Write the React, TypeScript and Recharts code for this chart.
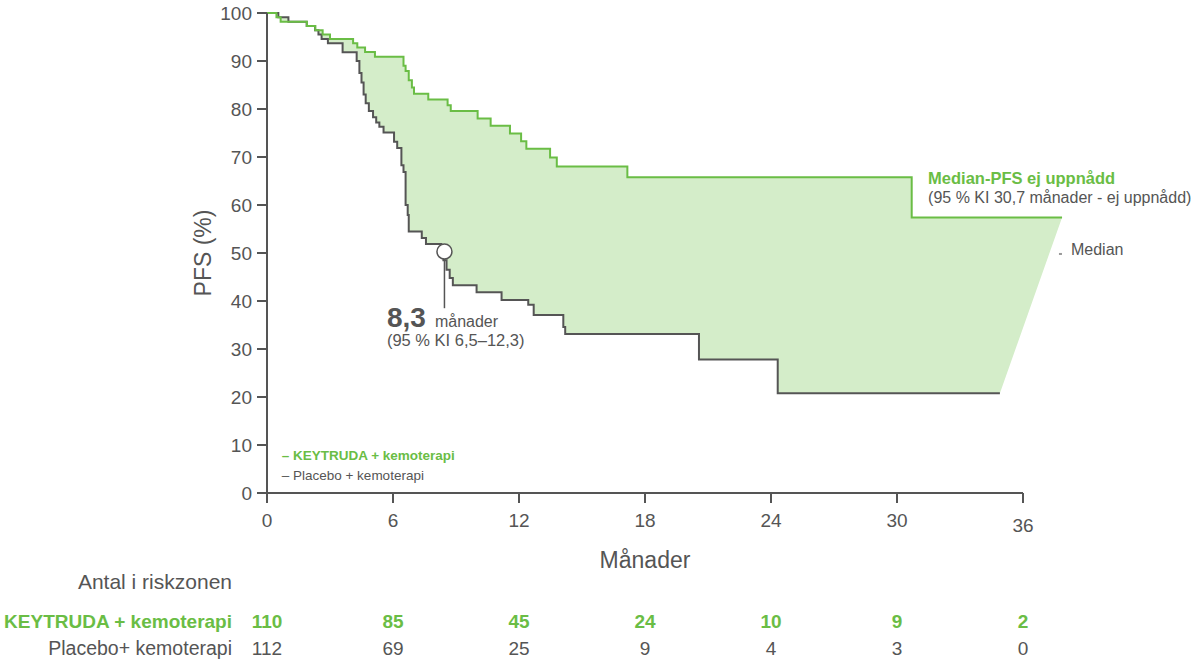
import {
  Area,
  ComposedChart,
  Line,
  ReferenceDot,
  ReferenceLine,
  XAxis,
  YAxis,
} from "recharts";

const FONT = "'Liberation Sans', Arial, Helvetica, sans-serif";
const GREEN = "#6abd45";
const GREEN_FILL = "#d4edc9";
const GRAY = "#555555";

// axis ticks
const monthTicks = [0, 6, 12, 18, 24, 30, 36];
const pfsTicks = [0, 10, 20, 30, 40, 50, 60, 70, 80, 90, 100];

// number at risk under each month tick
const keytrudaAtRisk = [110, 85, 45, 24, 10, 9, 2];
const placeboAtRisk = [112, 69, 25, 9, 4, 3, 0];

// Kaplan-Meier steps (month, PFS %)
const keytrudaMonths = [
  0, 0.45, 0.65, 1.9, 2.3, 2.65, 3.0, 4.1, 4.3, 4.67, 5.14, 6.5, 6.6, 6.75,
  6.9, 7.0, 7.68, 8.6, 8.75, 10.03, 10.65, 11.57, 12.1, 12.35, 13.48, 13.8,
  17.16, 30.7, 37.86,
];
const keytrudaPfs = [
  100, 99.1, 98.2, 97.3, 96.4, 95.5, 94.6, 93.7, 92.8, 91.9, 90.9, 89.0, 87.9,
  86.0, 84.5, 83.2, 82.0, 80.8, 79.6, 78.0, 76.5, 74.9, 73.3, 71.7, 69.9, 68.0,
  65.8, 57.4, 57.4,
];

const placeboMonths = [
  0, 0.54, 1.02, 1.89, 2.29, 2.45, 2.6, 2.9, 3.6, 4.27, 4.4, 4.5, 4.6, 4.7,
  4.85, 5.05, 5.2, 5.35, 5.55, 6.05, 6.2, 6.4, 6.5, 6.6, 6.7, 6.75, 7.37, 7.57,
  8.3, 8.4, 8.55, 8.7, 8.85, 9.98, 11.17, 12.44, 12.7, 14.11, 14.2, 20.57,
  24.32, 34.9,
];
const placeboPfs = [
  100, 99.1, 98.2, 97.3, 96.4, 95.5, 94.6, 93.7, 91.8, 90.0, 87.5, 85.5, 83.0,
  81.2, 79.6, 78.3, 77.2, 76.3, 75.1, 73.2, 71.9, 68.3, 66.9, 60.0, 57.9, 54.5,
  53.1, 51.9, 50.0, 48.5, 46.5, 44.8, 43.3, 41.8, 40.2, 39.2, 37.1, 34.6, 33.1,
  27.8, 20.8, 20.8,
];

const toSeries = (months: number[], pfs: number[]) =>
  months.map((t, i) => ({ t, pfs: pfs[i] }));

const stepAt = (months: number[], pfs: number[], t: number) => {
  let v = pfs[0];
  months.forEach((m, i) => {
    if (m <= t) v = pfs[i];
  });
  return v;
};

// shaded band between the two curves, closed with a straight edge at the end
function buildBand() {
  const placeboEnd = placeboMonths[placeboMonths.length - 1];
  const keytrudaEnd = keytrudaMonths[keytrudaMonths.length - 1];
  const times = Array.from(new Set([...keytrudaMonths, ...placeboMonths]))
    .filter((t) => t <= placeboEnd)
    .sort((a, b) => a - b);
  const band: { t: number; range: [number, number] }[] = [];
  times.forEach((t, i) => {
    if (i > 0) {
      const prev = times[i - 1];
      band.push({
        t,
        range: [
          stepAt(placeboMonths, placeboPfs, prev),
          stepAt(keytrudaMonths, keytrudaPfs, prev),
        ],
      });
    }
    band.push({
      t,
      range: [
        stepAt(placeboMonths, placeboPfs, t),
        stepAt(keytrudaMonths, keytrudaPfs, t),
      ],
    });
  });
  const last = stepAt(keytrudaMonths, keytrudaPfs, keytrudaEnd);
  band.push({ t: keytrudaEnd, range: [last, last] });
  return band;
}

const keytrudaSeries = toSeries(keytrudaMonths, keytrudaPfs);
const placeboSeries = toSeries(placeboMonths, placeboPfs);
const bandData = buildBand();

function MonthTick(props: any) {
  const { x, y, payload } = props;
  const v = payload.value as number;
  const i = monthTicks.indexOf(v);
  return (
    <g fontFamily={FONT}>
      <text x={x} y={y + (v === 36 ? 29 : 24)} textAnchor="middle" fontSize={19} fill={GRAY}>
        {v}
      </text>
      {v === 18 && (
        <text x={x} y={y + 65} textAnchor="middle" fontSize={23} fill={GRAY}>
          Månader
        </text>
      )}
      {v === 0 && (
        <g textAnchor="end">
          <text x={x - 35} y={y + 86} fontSize={21} fill={GRAY}>
            Antal i riskzonen
          </text>
          <text x={x - 35} y={y + 125} fontSize={19} fontWeight="bold" fill={GREEN}>
            KEYTRUDA + kemoterapi
          </text>
          <text x={x - 35} y={y + 152} fontSize={19.5} fill={GRAY}>
            Placebo+ kemoterapi
          </text>
        </g>
      )}
      <text x={x} y={y + 125} textAnchor="middle" fontSize={19} fontWeight="bold" fill={GREEN}>
        {keytrudaAtRisk[i]}
      </text>
      <text x={x} y={y + 152} textAnchor="middle" fontSize={19} fill={GRAY}>
        {placeboAtRisk[i]}
      </text>
    </g>
  );
}

export default function App() {
  return (
    <div style={{ position: "absolute", left: 0, top: 0, width: 1200, height: 663, background: "#fff", fontFamily: FONT }}>
      <ComposedChart
        width={1200}
        height={663}
        margin={{ top: 13, right: 135, bottom: 90, left: 0 }}
      >
        <XAxis
          type="number"
          dataKey="t"
          domain={[0, 38]}
          ticks={monthTicks}
          interval={0}
          axisLine={false}
          tickLine={{ stroke: GRAY, strokeWidth: 2 }}
          tickSize={10}
          tickMargin={0}
          height={80}
          tick={<MonthTick />}
        />
        <YAxis
          type="number"
          domain={[0, 100]}
          ticks={pfsTicks}
          interval={0}
          width={267}
          axisLine={{ stroke: GRAY, strokeWidth: 2 }}
          tickLine={{ stroke: GRAY, strokeWidth: 2 }}
          tickSize={10}
          tickMargin={5}
          tick={{ fill: GRAY, fontSize: 19, fontFamily: FONT }}
          label={{
            content: (p: any) => {
              const vb = p.viewBox;
              const cx = vb.x + vb.width - 64;
              const cy = vb.y + vb.height / 2;
              return (
                <text
                  x={cx}
                  y={cy}
                  transform={`rotate(-90 ${cx} ${cy})`}
                  textAnchor="middle"
                  dominantBaseline="central"
                  fontSize={23}
                  fill={GRAY}
                  fontFamily={FONT}
                >
                  PFS (%)
                </text>
              );
            },
          }}
        />

        <Area
          data={bandData}
          dataKey="range"
          type="linear"
          fill={GREEN_FILL}
          fillOpacity={1}
          stroke="none"
          isAnimationActive={false}
        />

        {/* x axis line only runs to 36 months */}
        <ReferenceLine
          segment={[{ x: 0, y: 0 }, { x: 36, y: 0 }]}
          stroke={GRAY}
          strokeWidth={2}
          ifOverflow="visible"
        />

        <Line
          data={placeboSeries}
          dataKey="pfs"
          type="stepAfter"
          stroke={GRAY}
          strokeWidth={2}
          dot={false}
          isAnimationActive={false}
        />
        <Line
          data={keytrudaSeries}
          dataKey="pfs"
          type="stepAfter"
          stroke={GREEN}
          strokeWidth={2}
          dot={false}
          isAnimationActive={false}
        />

        {/* median marker */}
        <ReferenceLine
          segment={[{ x: 8.45, y: 48.8 }, { x: 8.45, y: 38.5 }]}
          stroke={GRAY}
          strokeWidth={1.5}
        />
        <ReferenceDot
          x={8.45}
          y={50.3}
          r={7.5}
          fill="#fff"
          stroke={GRAY}
          strokeWidth={1.5}
        />

        <ReferenceDot
          x={5.71}
          y={34.6}
          r={0}
          ifOverflow="visible"
          shape={(p: any) => (
            <g fontFamily={FONT} fill={GRAY}>
              <text x={p.cx} y={p.cy} fontSize={28} fontWeight="bold">8,3</text>
              <text x={p.cx + 48} y={p.cy} fontSize={16}>månader</text>
              <text x={p.cx} y={p.cy + 19} fontSize={16.5}>(95 % KI 6,5–12,3)</text>
            </g>
          )}
        />

        <ReferenceDot
          x={31.48}
          y={64.4}
          r={0}
          ifOverflow="visible"
          shape={(p: any) => (
            <g fontFamily={FONT}>
              <text x={p.cx} y={p.cy} fontSize={16.5} fontWeight="bold" fill={GREEN}>
                Median-PFS ej uppnådd
              </text>
              <text x={p.cx} y={p.cy + 19} fontSize={16} fill={GRAY}>
                (95 % KI 30,7 månader - ej uppnådd)
              </text>
            </g>
          )}
        />

        <ReferenceDot
          x={37.76}
          y={49.8}
          r={0}
          ifOverflow="visible"
          shape={(p: any) => (
            <g fontFamily={FONT} fill={GRAY}>
              <rect x={p.cx - 1} y={p.cy - 1} width={3} height={2} fill="#999" />
              <text x={p.cx + 11} y={p.cy + 1} fontSize={16}>Median</text>
            </g>
          )}
        />

        {/* in-plot legend */}
        <ReferenceDot
          x={0.7}
          y={6.9}
          r={0}
          ifOverflow="visible"
          shape={(p: any) => (
            <g fontFamily={FONT} fontSize={13.5}>
              <text x={p.cx} y={p.cy} fontWeight="bold" fill={GREEN}>
                – KEYTRUDA + kemoterapi
              </text>
              <text x={p.cx} y={p.cy + 20} fill={GRAY}>
                – Placebo + kemoterapi
              </text>
            </g>
          )}
        />
      </ComposedChart>
    </div>
  );
}
